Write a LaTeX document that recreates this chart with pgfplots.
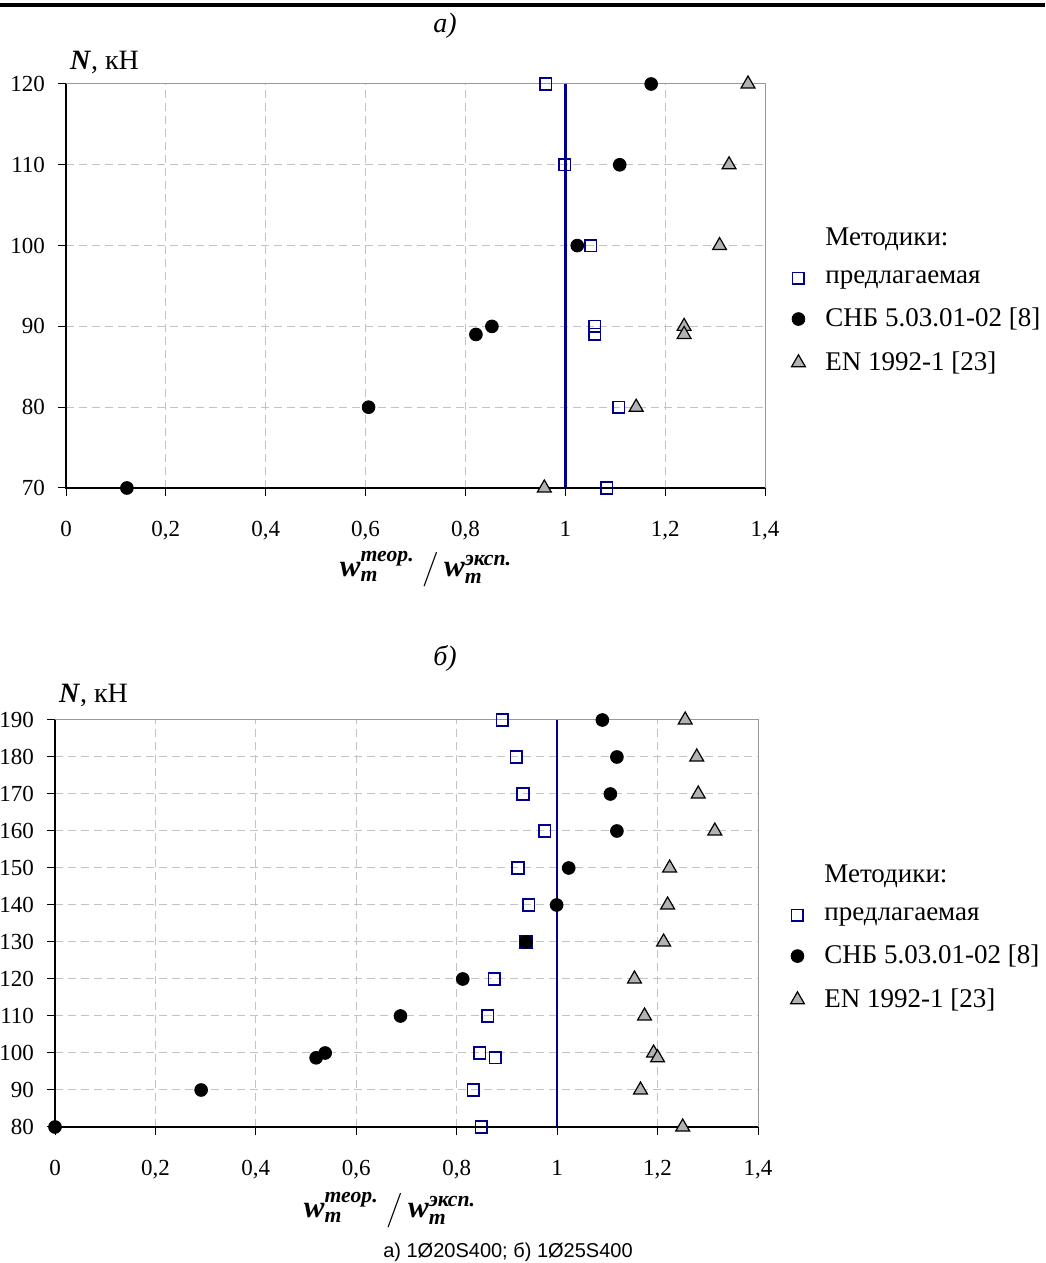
\documentclass[border=0pt]{standalone}
\usepackage{pgfplots}
\pgfplotsset{compat=1.18}
\usepackage{amsmath}
\usepackage{fontspec}
\setmainfont{Liberation Serif}
\setsansfont{Liberation Sans}
\definecolor{navyb}{RGB}{0,0,140}
\definecolor{trig}{RGB}{178,178,178}
\definecolor{gridc}{RGB}{195,195,195}

\newcommand{\wlab}{{\fontsize{15.5}{18}\selectfont\bfseries\itshape
$\text{w}^{\text{теор.}}_{\text{m}}\;\big/\,\text{w}^{\text{эксп.}}_{\text{m}}$}}

\pgfplotsset{
  myax/.style={
    scale only axis,
    anchor=south west,
    xmin=0, xmax=1.4,
    xtick={0,0.2,0.4,0.6,0.8,1,1.2,1.4},
    tick pos=left, tick align=outside,
    major tick length=4pt,
    grid=major,
    major grid style={gridc, line width=0.5pt, dash pattern=on 4pt off 2.5pt},
    axis line style={gray!80, line width=0.5pt},
    tick style={black, line width=0.5pt},
    /pgf/number format/use comma,
    /pgf/number format/assume math mode=true,
    tick label style={font=\fontsize{11.5}{13}\selectfont},
    xticklabel shift=9pt,
    yticklabel shift=3pt,
    clip=false,
    legend cell align=left,
    legend style={draw=none, fill=none, font=\fontsize{13.5}{15}\selectfont,
      anchor=north west, row sep=7pt, inner sep=0pt,
      /tikz/every odd column/.append style={column sep=8pt}},
  },
  sq/.style={only marks, mark=square, mark size=2.9pt,
    mark options={draw=navyb, fill=white, line width=0.8pt, solid}},
  ci/.style={only marks, mark=*, mark size=3.2pt,
    mark options={draw=black, fill=black, solid}},
  tr/.style={only marks, mark=triangle*, mark size=4pt,
    mark options={draw=black, fill=trig, line width=0.6pt, solid}},
}

\begin{document}
\begin{tikzpicture}[x=1pt,y=1pt]
\useasboundingbox (0,0) rectangle (522.5,631.5);
\draw[line width=2pt] (0,629) -- (522.5,629);
\node[font=\itshape\fontsize{14}{16}\selectfont] at (222.5,618.5) {а)};
\node[anchor=base west, font=\fontsize{14}{16}\selectfont] at (31.5,596.5) {\textbf{\textit{N}}, кН};

\begin{axis}[myax, at={(33pt,387.5pt)}, width=349.5pt, height=202pt,
  ymin=70, ymax=120, ytick={70,80,90,100,110,120},
  legend style={at={(1,0.655)}, xshift=8pt}]
\addplot[navyb, line width=1.3pt, forget plot] coordinates {(1,70) (1,120)};
\draw[black, line width=0.6pt] (rel axis cs:0,1) -- (rel axis cs:0,0) -- (rel axis cs:1,0);
\addlegendimage{empty legend}
\addlegendentry{Методики:}
\addplot[sq] coordinates {(0.961,120) (0.999,110) (1.051,100) (1.059,90) (1.059,89) (1.107,80) (1.083,70)};
\addlegendentry{предлагаемая}
\addplot[ci] coordinates {(1.172,120) (1.109,110) (1.024,100) (0.853,90) (0.821,89) (0.606,80) (0.122,70)};
\addlegendentry{СНБ 5.03.01-02 [8]}
\addplot[tr] coordinates {(1.366,120) (1.328,110) (1.309,100) (1.238,90) (1.238,89) (1.142,80) (0.958,70)};
\addlegendentry{EN 1992-1 [23]}
\end{axis}
\node at (213,347) {\wlab};

\node[font=\itshape\fontsize{14}{16}\selectfont] at (222.5,302.5) {б)};
\node[anchor=base west, font=\fontsize{14}{16}\selectfont] at (26,280) {\textbf{\textit{N}}, кН};

\begin{axis}[myax, at={(27.5pt,68pt)}, width=351.5pt, height=203.5pt,
  ymin=80, ymax=190, ytick={80,90,100,110,120,130,140,150,160,170,180,190},
  legend style={at={(1,0.655)}, xshift=11pt}]
\addplot[navyb, line width=1.3pt, forget plot] coordinates {(1,80) (1,190)};
\draw[black, line width=0.6pt] (rel axis cs:0,1) -- (rel axis cs:0,0) -- (rel axis cs:1,0);
\addlegendimage{empty legend}
\addlegendentry{Методики:}
\addplot[sq] coordinates {(0.891,190) (0.919,180) (0.932,170) (0.975,160) (0.922,150) (0.943,140) (0.938,130) (0.875,120) (0.862,110) (0.846,100) (0.877,98.7) (0.833,90) (0.849,80)};
\addlegendentry{предлагаемая}
\addplot[ci] coordinates {(1.090,190) (1.119,180) (1.106,170) (1.119,160) (1.023,150) (0.999,140) (0.938,130) (0.812,120) (0.688,110) (0.538,100) (0.520,98.7) (0.291,90) (0.0,80)};
\addlegendentry{СНБ 5.03.01-02 [8]}
\addplot[tr] coordinates {(1.255,190) (1.278,180) (1.281,170) (1.314,160) (1.224,150) (1.220,140) (1.212,130) (1.154,120) (1.174,110) (1.192,100) (1.200,98.7) (1.166,90) (1.250,80)};
\addlegendentry{EN 1992-1 [23]}
\end{axis}
\node at (195,26.5) {\wlab};
\node[font=\sffamily\fontsize{10}{12}\selectfont] at (254,5.5) {а) 1Ø20S400; б) 1Ø25S400};
\end{tikzpicture}
\end{document}
